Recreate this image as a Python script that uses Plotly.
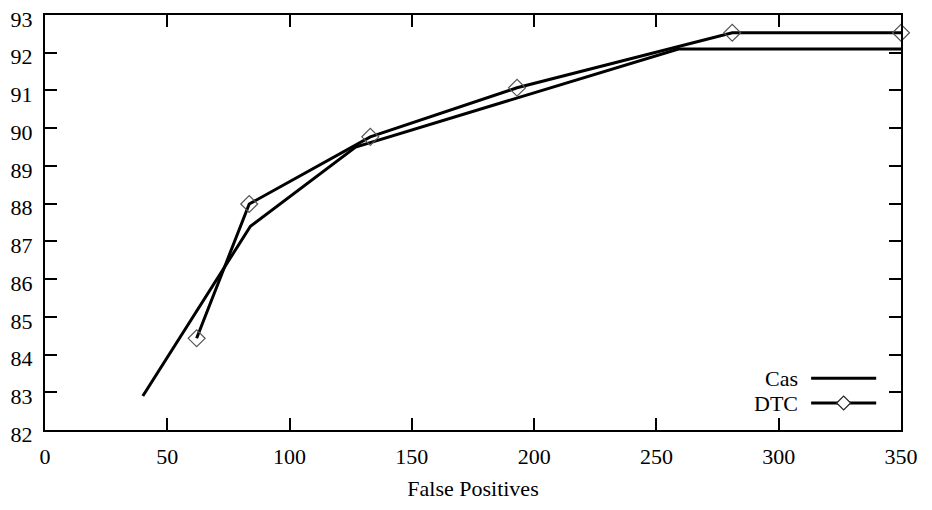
import plotly.graph_objects as go

# Data
cas_x = [40, 84, 127, 259, 350]
cas_y = [82.9, 87.4, 89.5, 92.1, 92.1]
dtc_x = [62, 83.5, 133, 193, 281, 350]
dtc_y = [84.43, 87.99, 89.77, 91.07, 92.53, 92.53]

x_ticks = [0, 50, 100, 150, 200, 250, 300, 350]
y_ticks = [82, 83, 84, 85, 86, 87, 88, 89, 90, 91, 92, 93]
legend_names = ["Cas", "DTC"]

FONT = "'Liberation Serif', 'DejaVu Serif', serif"
FS = 22

fig = go.Figure()
fig.add_trace(go.Scatter(x=cas_x, y=cas_y, mode="lines", name=legend_names[0],
                         line=dict(color="black", width=3), cliponaxis=False,
                         showlegend=False))
fig.add_trace(go.Scatter(x=dtc_x, y=dtc_y, mode="lines+markers", name=legend_names[1],
                         line=dict(color="black", width=3),
                         marker=dict(symbol="diamond-open", size=13,
                                     color="#555555", line=dict(width=1.2, color="#555555")),
                         cliponaxis=False, showlegend=False))

axis_common = dict(showgrid=False, zeroline=False, showline=True, linecolor="black",
                   linewidth=2, mirror="ticks", ticks="inside", ticklen=12, tickwidth=2,
                   tickcolor="black", automargin=False, ticklabeloverflow="allow",
                   tickfont=dict(family=FONT, size=FS, color="black"))

fig.update_xaxes(range=[0, 350], tickvals=x_ticks, ticktext=[str(v) for v in x_ticks],
                 title=dict(text="False Positives", font=dict(family=FONT, size=FS, color="black"),
                            standoff=12),
                 ticklabelstandoff=6, **axis_common)
fig.update_yaxes(range=[82, 93], tickvals=y_ticks, ticktext=[str(v) for v in y_ticks],
                 ticklabelstandoff=6, ticklabelshift=4, **axis_common)

# Legend drawn manually (text left of sample, as in reference)
legend_y = [0.125, 0.065]
shapes = []
annotations = []
for i, name in enumerate(legend_names):
    annotations.append(dict(xref="paper", yref="paper", x=0.882, y=legend_y[i],
                            text=name, showarrow=False, xanchor="right", yanchor="middle",
                            font=dict(family=FONT, size=FS, color="black")))
    shapes.append(dict(type="line", xref="paper", yref="paper",
                       x0=0.895, x1=0.971, y0=legend_y[i], y1=legend_y[i],
                       line=dict(color="black", width=3)))
# diamond sample for DTC
cx, cy = 0.933, legend_y[1]
dx, dy = 7 / 856, 7 / 415
shapes.append(dict(type="path", xref="paper", yref="paper",
                   path=f"M {cx-dx},{cy} L {cx},{cy+dy} L {cx+dx},{cy} L {cx},{cy-dy} Z",
                   line=dict(color="#222222", width=1.2), fillcolor="white"))

# page body has an 8px margin: shift figure so the plot box matches the reference
fig.update_layout(width=924, height=502, margin=dict(l=37, r=31, t=7, b=80, autoexpand=False),
                  plot_bgcolor="white", paper_bgcolor="white",
                  shapes=shapes, annotations=annotations,
                  font=dict(family=FONT, size=FS, color="black"))

fig.write_html("out.html")
